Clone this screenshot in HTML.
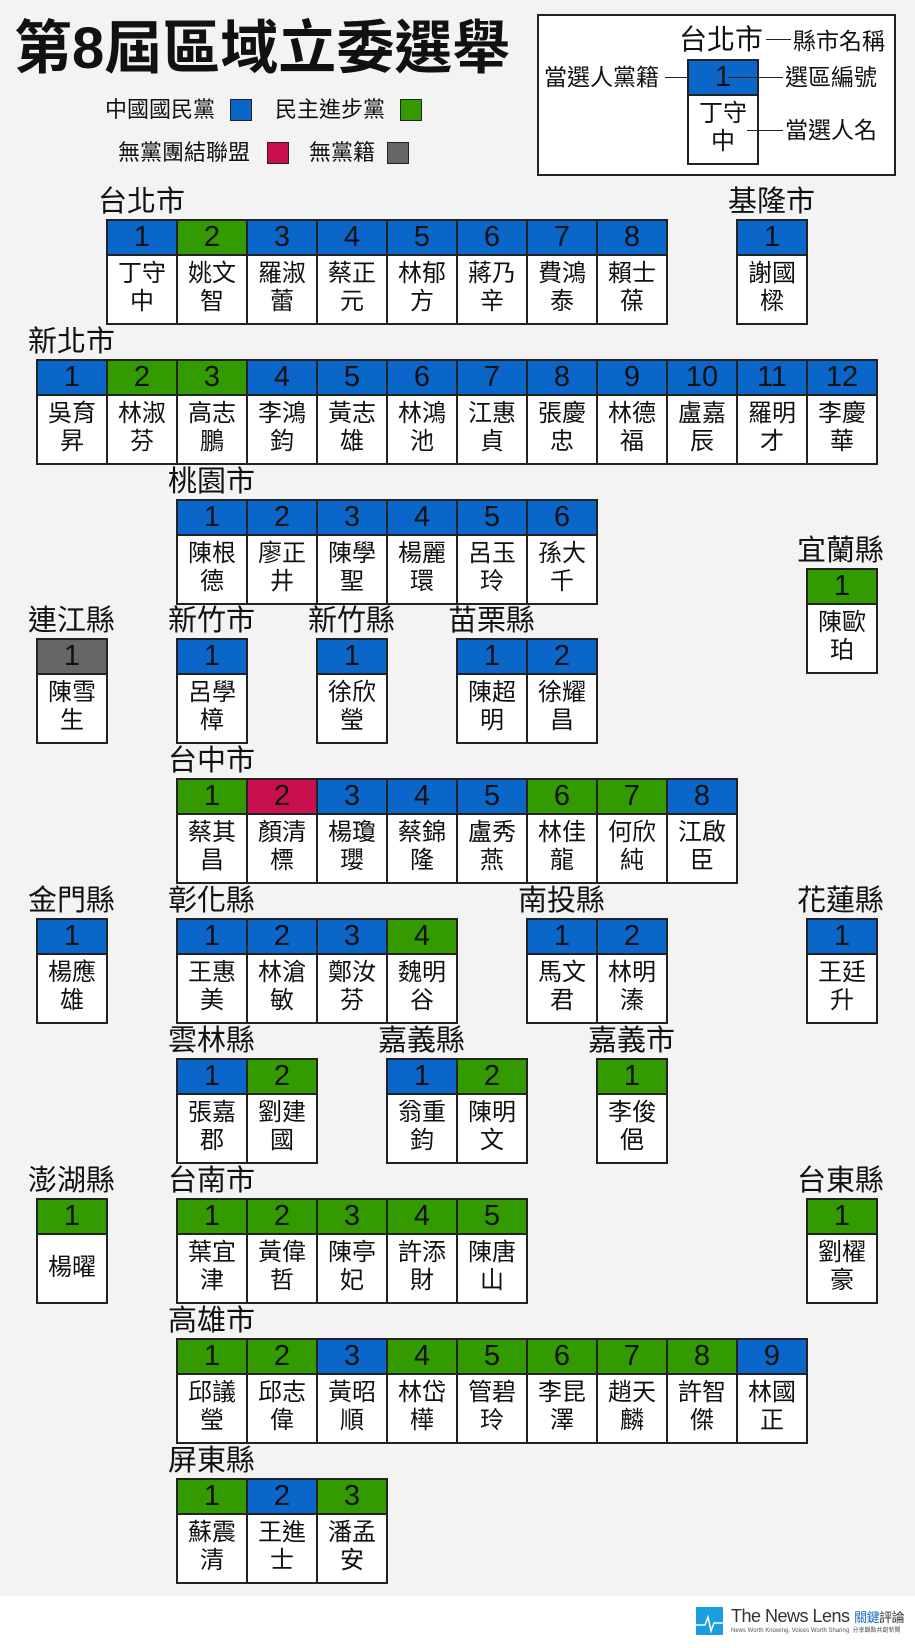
<!DOCTYPE html>
<html><head><meta charset="utf-8">
<style>
*{margin:0;padding:0}
body{width:915px;height:1648px;background:#f3f3f3;position:relative;overflow:hidden;font-family:"Liberation Sans","Noto Sans CJK TC",sans-serif;color:#111}
.c{position:absolute;width:72px;height:106px}
.c b{display:block;height:37px;border:2px solid #222;box-sizing:border-box;font:normal 29px/33px "Liberation Sans",sans-serif;text-align:center;color:#111}
.c i{display:block;height:69px;border:2px solid #222;border-top:none;background:#fff;box-sizing:border-box;font-style:normal;font-size:24px;line-height:28px;padding-top:4px;text-align:center;font-family:"Liberation Sans","Noto Sans CJK TC",sans-serif}
.B{background:#0a66c8}.G{background:#339a00}.R{background:#c8104f}.K{background:#666}
.L{position:absolute;font-size:29px;line-height:34px;height:34px;white-space:nowrap}
.t{position:absolute;white-space:nowrap}
.sw{position:absolute;width:20px;height:20px;border:1px solid #222}
.ln{position:absolute;height:1px;background:#222}
</style></head><body>

<div class="t" style="left:14px;top:14px;font-size:58px;line-height:70px;font-weight:bold;letter-spacing:0px">第8屆區域立委選舉</div>

<div class="t" style="left:105px;top:97px;font-size:22px;line-height:26px">中國國民黨</div>
<div class="sw B" style="left:230px;top:99px"></div>
<div class="t" style="left:275px;top:97px;font-size:22px;line-height:26px">民主進步黨</div>
<div class="sw G" style="left:400px;top:99px"></div>
<div class="t" style="left:118px;top:140px;font-size:22px;line-height:26px">無黨團結聯盟</div>
<div class="sw R" style="left:267px;top:142px"></div>
<div class="t" style="left:309px;top:140px;font-size:22px;line-height:26px">無黨籍</div>
<div class="sw K" style="left:387px;top:142px"></div>

<div style="position:absolute;left:537px;top:14px;width:359px;height:162px;border:2px solid #222;box-sizing:border-box;background:#fff"></div>
<div class="t" style="left:679px;top:24px;font-size:28px;line-height:32px">台北市</div>
<div class="ln" style="left:766px;top:39px;width:25px"></div>
<div class="t" style="left:793px;top:28px;font-size:23px;line-height:26px">縣市名稱</div>
<div class="t" style="left:544px;top:64px;font-size:23px;line-height:26px">當選人黨籍</div>
<div class="ln" style="left:665px;top:77px;width:24px"></div>
<div class="c" style="left:687px;top:59px"><b class="B">1</b><i>丁守<br>中</i></div>
<div class="ln" style="left:728px;top:77px;width:55px"></div>
<div class="t" style="left:785px;top:64px;font-size:23px;line-height:26px">選區編號</div>
<div class="ln" style="left:747px;top:130px;width:36px"></div>
<div class="t" style="left:785px;top:117px;font-size:23px;line-height:26px">當選人名</div>

<!-- 台北 -->
<div class="L" style="left:98px;top:185px">台北市</div>
<div class="c" style="left:106px;top:219px"><b class="B">1</b><i>丁守<br>中</i></div>
<div class="c" style="left:176px;top:219px"><b class="G">2</b><i>姚文<br>智</i></div>
<div class="c" style="left:246px;top:219px"><b class="B">3</b><i>羅淑<br>蕾</i></div>
<div class="c" style="left:316px;top:219px"><b class="B">4</b><i>蔡正<br>元</i></div>
<div class="c" style="left:386px;top:219px"><b class="B">5</b><i>林郁<br>方</i></div>
<div class="c" style="left:456px;top:219px"><b class="B">6</b><i>蔣乃<br>辛</i></div>
<div class="c" style="left:526px;top:219px"><b class="B">7</b><i>費鴻<br>泰</i></div>
<div class="c" style="left:596px;top:219px"><b class="B">8</b><i>賴士<br>葆</i></div>
<div class="L" style="left:728px;top:185px">基隆市</div>
<div class="c" style="left:736px;top:219px"><b class="B">1</b><i>謝國<br>樑</i></div>

<!-- 新北 -->
<div class="L" style="left:28px;top:325px">新北市</div>
<div class="c" style="left:36px;top:359px"><b class="B">1</b><i>吳育<br>昇</i></div>
<div class="c" style="left:106px;top:359px"><b class="G">2</b><i>林淑<br>芬</i></div>
<div class="c" style="left:176px;top:359px"><b class="G">3</b><i>高志<br>鵬</i></div>
<div class="c" style="left:246px;top:359px"><b class="B">4</b><i>李鴻<br>鈞</i></div>
<div class="c" style="left:316px;top:359px"><b class="B">5</b><i>黃志<br>雄</i></div>
<div class="c" style="left:386px;top:359px"><b class="B">6</b><i>林鴻<br>池</i></div>
<div class="c" style="left:456px;top:359px"><b class="B">7</b><i>江惠<br>貞</i></div>
<div class="c" style="left:526px;top:359px"><b class="B">8</b><i>張慶<br>忠</i></div>
<div class="c" style="left:596px;top:359px"><b class="B">9</b><i>林德<br>福</i></div>
<div class="c" style="left:666px;top:359px"><b class="B">10</b><i>盧嘉<br>辰</i></div>
<div class="c" style="left:736px;top:359px"><b class="B">11</b><i>羅明<br>才</i></div>
<div class="c" style="left:806px;top:359px"><b class="B">12</b><i>李慶<br>華</i></div>

<!-- 桃園 -->
<div class="L" style="left:168px;top:465px">桃園市</div>
<div class="c" style="left:176px;top:499px"><b class="B">1</b><i>陳根<br>德</i></div>
<div class="c" style="left:246px;top:499px"><b class="B">2</b><i>廖正<br>井</i></div>
<div class="c" style="left:316px;top:499px"><b class="B">3</b><i>陳學<br>聖</i></div>
<div class="c" style="left:386px;top:499px"><b class="B">4</b><i>楊麗<br>環</i></div>
<div class="c" style="left:456px;top:499px"><b class="B">5</b><i>呂玉<br>玲</i></div>
<div class="c" style="left:526px;top:499px"><b class="B">6</b><i>孫大<br>千</i></div>
<div class="L" style="left:797px;top:534px">宜蘭縣</div>
<div class="c" style="left:806px;top:568px"><b class="G">1</b><i>陳歐<br>珀</i></div>

<!-- row 3 -->
<div class="L" style="left:28px;top:604px">連江縣</div>
<div class="c" style="left:36px;top:638px"><b class="K">1</b><i>陳雪<br>生</i></div>
<div class="L" style="left:168px;top:604px">新竹市</div>
<div class="c" style="left:176px;top:638px"><b class="B">1</b><i>呂學<br>樟</i></div>
<div class="L" style="left:308px;top:604px">新竹縣</div>
<div class="c" style="left:316px;top:638px"><b class="B">1</b><i>徐欣<br>瑩</i></div>
<div class="L" style="left:448px;top:604px">苗栗縣</div>
<div class="c" style="left:456px;top:638px"><b class="B">1</b><i>陳超<br>明</i></div>
<div class="c" style="left:526px;top:638px"><b class="B">2</b><i>徐耀<br>昌</i></div>

<!-- 台中 -->
<div class="L" style="left:168px;top:744px">台中市</div>
<div class="c" style="left:176px;top:778px"><b class="G">1</b><i>蔡其<br>昌</i></div>
<div class="c" style="left:246px;top:778px"><b class="R">2</b><i>顏清<br>標</i></div>
<div class="c" style="left:316px;top:778px"><b class="B">3</b><i>楊瓊<br>瓔</i></div>
<div class="c" style="left:386px;top:778px"><b class="B">4</b><i>蔡錦<br>隆</i></div>
<div class="c" style="left:456px;top:778px"><b class="B">5</b><i>盧秀<br>燕</i></div>
<div class="c" style="left:526px;top:778px"><b class="G">6</b><i>林佳<br>龍</i></div>
<div class="c" style="left:596px;top:778px"><b class="G">7</b><i>何欣<br>純</i></div>
<div class="c" style="left:666px;top:778px"><b class="B">8</b><i>江啟<br>臣</i></div>

<!-- row 5 -->
<div class="L" style="left:28px;top:884px">金門縣</div>
<div class="c" style="left:36px;top:918px"><b class="B">1</b><i>楊應<br>雄</i></div>
<div class="L" style="left:168px;top:884px">彰化縣</div>
<div class="c" style="left:176px;top:918px"><b class="B">1</b><i>王惠<br>美</i></div>
<div class="c" style="left:246px;top:918px"><b class="B">2</b><i>林滄<br>敏</i></div>
<div class="c" style="left:316px;top:918px"><b class="B">3</b><i>鄭汝<br>芬</i></div>
<div class="c" style="left:386px;top:918px"><b class="G">4</b><i>魏明<br>谷</i></div>
<div class="L" style="left:518px;top:884px">南投縣</div>
<div class="c" style="left:526px;top:918px"><b class="B">1</b><i>馬文<br>君</i></div>
<div class="c" style="left:596px;top:918px"><b class="B">2</b><i>林明<br>溱</i></div>
<div class="L" style="left:797px;top:884px">花蓮縣</div>
<div class="c" style="left:806px;top:918px"><b class="B">1</b><i>王廷<br>升</i></div>

<!-- row 6 -->
<div class="L" style="left:168px;top:1024px">雲林縣</div>
<div class="c" style="left:176px;top:1058px"><b class="B">1</b><i>張嘉<br>郡</i></div>
<div class="c" style="left:246px;top:1058px"><b class="G">2</b><i>劉建<br>國</i></div>
<div class="L" style="left:378px;top:1024px">嘉義縣</div>
<div class="c" style="left:386px;top:1058px"><b class="B">1</b><i>翁重<br>鈞</i></div>
<div class="c" style="left:456px;top:1058px"><b class="G">2</b><i>陳明<br>文</i></div>
<div class="L" style="left:588px;top:1024px">嘉義市</div>
<div class="c" style="left:596px;top:1058px"><b class="G">1</b><i>李俊<br>俋</i></div>

<!-- row 7 -->
<div class="L" style="left:28px;top:1164px">澎湖縣</div>
<div class="c" style="left:36px;top:1198px"><b class="G">1</b><i style="padding-top:19px">楊曜</i></div>
<div class="L" style="left:168px;top:1164px">台南市</div>
<div class="c" style="left:176px;top:1198px"><b class="G">1</b><i>葉宜<br>津</i></div>
<div class="c" style="left:246px;top:1198px"><b class="G">2</b><i>黃偉<br>哲</i></div>
<div class="c" style="left:316px;top:1198px"><b class="G">3</b><i>陳亭<br>妃</i></div>
<div class="c" style="left:386px;top:1198px"><b class="G">4</b><i>許添<br>財</i></div>
<div class="c" style="left:456px;top:1198px"><b class="G">5</b><i>陳唐<br>山</i></div>
<div class="L" style="left:797px;top:1164px">台東縣</div>
<div class="c" style="left:806px;top:1198px"><b class="G">1</b><i>劉櫂<br>豪</i></div>

<!-- 高雄 -->
<div class="L" style="left:168px;top:1304px">高雄市</div>
<div class="c" style="left:176px;top:1338px"><b class="G">1</b><i>邱議<br>瑩</i></div>
<div class="c" style="left:246px;top:1338px"><b class="G">2</b><i>邱志<br>偉</i></div>
<div class="c" style="left:316px;top:1338px"><b class="B">3</b><i>黃昭<br>順</i></div>
<div class="c" style="left:386px;top:1338px"><b class="G">4</b><i>林岱<br>樺</i></div>
<div class="c" style="left:456px;top:1338px"><b class="G">5</b><i>管碧<br>玲</i></div>
<div class="c" style="left:526px;top:1338px"><b class="G">6</b><i>李昆<br>澤</i></div>
<div class="c" style="left:596px;top:1338px"><b class="G">7</b><i>趙天<br>麟</i></div>
<div class="c" style="left:666px;top:1338px"><b class="G">8</b><i>許智<br>傑</i></div>
<div class="c" style="left:736px;top:1338px"><b class="B">9</b><i>林國<br>正</i></div>

<!-- 屏東 -->
<div class="L" style="left:168px;top:1444px">屏東縣</div>
<div class="c" style="left:176px;top:1478px"><b class="G">1</b><i>蘇震<br>清</i></div>
<div class="c" style="left:246px;top:1478px"><b class="B">2</b><i>王進<br>士</i></div>
<div class="c" style="left:316px;top:1478px"><b class="G">3</b><i>潘孟<br>安</i></div>

<!-- footer -->
<div style="position:absolute;left:0;top:1596px;width:915px;height:52px;background:#fff"></div>
<div style="position:absolute;left:696px;top:1607px;width:27px;height:28px;background:#1a9ee0"></div>
<svg style="position:absolute;left:696px;top:1607px" width="27" height="28"><polyline points="0,18 9,18 12,10 15,24 18,16 27,16" fill="none" stroke="#fff" stroke-width="1.5"/></svg>
<div class="t" style="left:731px;top:1606px;font-size:18px;line-height:20px;color:#333;letter-spacing:-0.5px">The News Lens <span style="font-size:13px;color:#1a6ec0">關鍵</span><span style="font-size:13px;color:#333">評論</span></div>
<div class="t" style="left:731px;top:1627px;font-size:6px;line-height:8px;color:#555">News Worth Knowing, Voices Worth Sharing &nbsp;分享觀點共創新聞</div>
</body></html>
